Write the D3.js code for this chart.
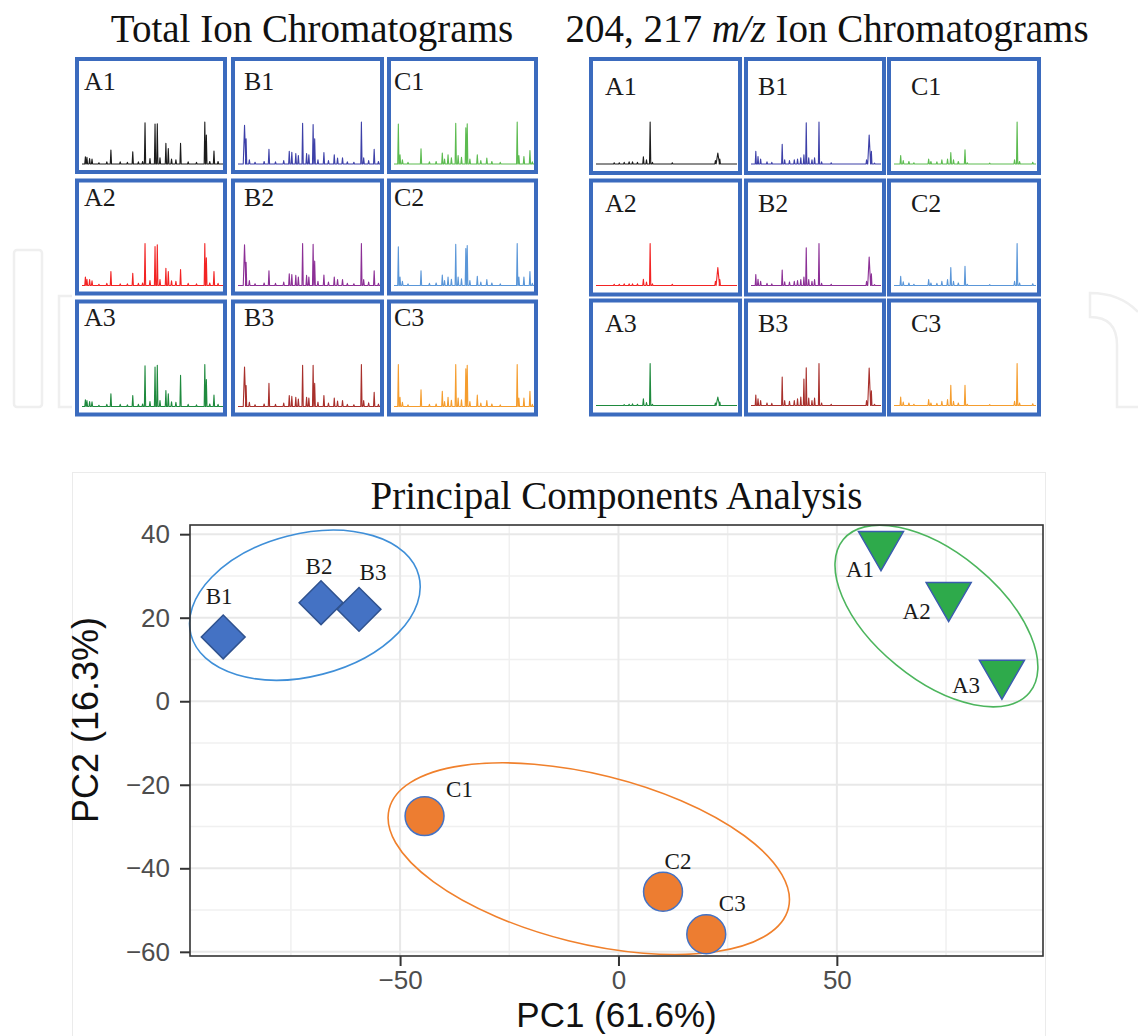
<!DOCTYPE html>
<html>
<head>
<meta charset="utf-8">
<script src="https://cdn.jsdelivr.net/npm/d3@7"></script>
<style>
  body { margin: 0; background: #fff; }
</style>
</head>
<body>
<div id="chart"></div>
<script>
// ---- PCA scores ----
var sampleNames = ["A1", "A2", "A3", "B1", "B2", "B3", "C1", "C2", "C3"];
var sampleGroup = ["A", "A", "A", "B", "B", "B", "C", "C", "C"];
var pc1 = [60.1, 75.6, 87.8, -90.5, -68.1, -59.4, -44.4, 10.2, 20.1];
var pc2 = [37.5, 25.3, 6.7, 15.4, 23.6, 22.0, -27.5, -45.6, -55.8];

var xTicks = [-50, 0, 50];
var yTicks = [-60, -40, -20, 0, 20, 40];
var xMinor = [-75, -25, 25, 75];
var yMinor = [-50, -30, -10, 10, 30];

// group ellipses: centre (PC units), semi axes (PC1 units), tilt (deg)
var ellGroup = ["B", "A", "C"];
var ellCx = [-71.8, 72.8, -6.8];
var ellCy = [23.0, 20.4, -37.7];
var ellA = [26.95, 27.6, 47.1];
var ellB = [16.3, 14.5, 19.35];
var ellTilt = [-14.5, 39.4, 13.95];

// ---- chromatogram peaks: [retention 0-100, relative height 0-100, half width] ----
var ticA1 = [[2.4,17],[3.5,16],[5.4,13],[7.1,12],[12,3],[17.6,5],[20.5,33],[27.1,5],[32.2,4],[36,29],[40,5],[43,6],[44.7,98],[48.2,13],[51.8,95],[53.4,96],[55.3,15],[59.5,49],[61.2,37],[63.5,12],[66.6,10],[69.9,49],[75.3,5],[81.2,4],[87.1,100],[88.2,69],[90.6,6],[93.6,31],[96.5,6]];
var ticA2 = [[2.4,20],[3.5,15],[5.4,14],[7.1,11],[12,3],[17.6,5],[20.5,33],[27.1,4],[32.2,4],[36,29],[40,5],[43,6],[44.7,100],[48.2,12],[51.8,93],[53.4,97],[55.3,14],[59.5,41],[61.2,33],[63.5,11],[66.6,10],[69.9,38],[75.3,5],[81.2,4],[87.1,100],[88.2,66],[90.6,6],[93.6,33],[96.5,5]];
var ticA3 = [[2.4,16],[3.5,14],[5.4,12],[7.1,11],[12,3],[17.6,5],[20.5,30],[27.1,5],[32.2,4],[36,26],[40,5],[43,6],[44.7,97],[48.2,12],[51.8,94],[53.4,98],[55.3,14],[59.5,38],[61.2,30],[63.5,11],[66.6,10],[69.9,74],[75.3,5],[81.2,4],[87.1,100],[88.2,64],[90.6,6],[93.6,27],[96.5,5]];
var ticB1 = [[4.6,92,0.9],[5.7,60],[8,10],[12,4],[18.4,6],[21.8,35],[26.4,5],[32.2,8],[36.1,30],[37.9,28],[40.7,25],[42.5,20],[45.5,97],[48.3,25],[49.9,22],[52.9,94],[54,60],[56.3,10],[60.5,27],[63.7,8],[67.8,22],[70.1,14],[73.6,15],[77,5],[81.6,4],[86.9,100],[88.5,15],[92,8],[95.9,35],[98.9,6]];
var ticB2 = [[4.6,97,0.9],[5.7,55],[8,12],[12,4],[18.4,6],[21.8,35],[26.4,5],[32.2,8],[36.1,28],[37.9,26],[40.7,24],[42.5,20],[45.5,100],[48.3,24],[49.9,20],[52.9,98],[54,58],[56.3,10],[60.5,25],[63.7,8],[67.8,20],[70.1,14],[73.6,14],[77,5],[81.6,4],[86.9,100],[88.5,14],[92,8],[95.9,35],[98.9,5]];
var ticB3 = [[4.6,94,0.9],[5.7,50],[8,10],[12,4],[18.4,6],[21.8,55],[26.4,5],[32.2,8],[36.1,26],[37.9,24],[40.7,22],[42.5,18],[45.5,98],[48.3,22],[49.9,20],[52.9,98],[54,55],[56.3,10],[60.5,26],[63.7,8],[67.8,20],[70.1,13],[73.6,14],[77,5],[81.6,4],[86.9,100],[88.5,14],[92,8],[95.9,34],[98.9,5]];
var ticC1 = [[3.1,95],[4.3,22],[6,10],[10,4],[19.3,36],[25.3,5],[30.1,6],[34.5,26],[36.1,12],[38.6,22],[41,15],[44.1,97],[45.8,20],[48.2,16],[51.3,86],[52.3,96],[54.2,12],[59.5,22],[62,8],[66.3,14],[69.9,6],[75.9,4],[88,100],[89.2,20],[92.8,18],[97.1,32],[98.8,5]];
var ticC2 = [[3.1,92],[4.3,20],[6,10],[10,4],[19.3,35],[25.3,5],[30.1,6],[34.5,25],[36.1,12],[38.6,20],[41,15],[44.1,98],[45.8,20],[48.2,16],[51.3,88],[52.3,95],[54.2,12],[59.5,22],[62,8],[66.3,14],[69.9,6],[75.9,4],[88,100],[89.2,20],[92.8,20],[97.1,33],[98.8,5]];
var ticC3 = [[3.1,100],[4.3,22],[6,10],[10,4],[19.3,40],[25.3,5],[30.1,6],[34.5,36],[36.1,12],[38.6,22],[41,15],[44.1,100],[45.8,20],[48.2,16],[51.3,90],[52.3,98],[54.2,12],[59.5,27],[62,8],[66.3,14],[69.9,6],[75.9,4],[88,100],[89.2,20],[92.8,20],[97.1,36],[98.8,5]];

var simA1 = [[12.9,3],[16.5,3],[20,4],[23.5,5],[25.9,5],[29.4,4],[33.6,17],[35.8,10],[38.4,100],[40,4],[54.1,3],[84.7,8],[86.4,26,1.2],[87.8,12]];
var simA2 = [[12.9,3],[16.5,3],[20,4],[23.5,4],[25.9,4],[29.4,4],[33.6,15],[35.8,8],[38.4,100],[40,4],[54.1,3],[84.7,10],[86.4,43,1.2],[87.8,14]];
var simA3 = [[20,2],[23.5,3],[25.9,4],[29.4,3],[33.6,16],[35.8,7],[38.4,100],[40,3],[84.7,6],[86.4,20,1.2],[87.8,8]];
var simB1 = [[3.7,30],[5.4,18],[7.4,12],[12.3,5],[16,4],[24,47],[25.9,10],[29.6,8],[33.3,10],[35.8,12],[38.3,15],[40.7,22],[42.5,98],[44.4,15],[46.9,10],[48.9,15],[52.3,100],[54.3,5],[61.7,3],[88.9,10],[90.9,69,1.1],[92.6,30],[95,2]];
var simB2 = [[3.7,26],[5.4,15],[7.4,10],[12.3,5],[16,4],[24,37],[25.9,9],[29.6,8],[33.3,10],[35.8,12],[38.3,14],[40.7,20],[42.5,90],[44.4,14],[46.9,10],[48.9,14],[52.3,100],[54.3,5],[61.7,3],[88.9,10],[90.9,68,1.1],[92.6,28],[95,2]];
var simB3 = [[3.7,25],[5.4,16],[7.4,12],[12.3,6],[16,5],[24,68],[25.9,12],[29.6,10],[33.3,12],[35.8,16],[38.3,20],[40.7,63],[42.5,90],[44.4,18],[46.9,12],[48.9,18],[52.3,100],[54.3,6],[61.7,3],[88.9,12],[90.9,89,1.1],[92.6,35],[95,3]];
var simC1 = [[4.7,20],[6.5,8],[10.5,6],[14,3],[24.4,12],[26,6],[30.2,5],[33.7,10],[37.7,12],[40,27],[41.9,10],[45.3,6],[50,34],[51.6,3],[67.4,2],[84.9,10],[86.7,100],[88.4,6],[97.7,4]];
var simC2 = [[4.7,22],[6.5,9],[10.5,6],[14,3],[24.4,14],[26,6],[30.2,5],[33.7,10],[37.7,14],[40,43],[41.9,10],[45.3,6],[50,46],[51.6,3],[67.4,2],[84.9,10],[86.7,100],[88.4,6],[97.7,4]];
var simC3 = [[4.7,20],[6.5,8],[10.5,6],[14,3],[24.4,14],[26,6],[30.2,5],[33.7,10],[37.7,14],[40,48],[41.9,10],[45.3,6],[50,48],[51.6,3],[67.4,2],[84.9,10],[86.7,100],[88.4,6],[97.7,4]];

var gridNames = [["A1", "B1", "C1"], ["A2", "B2", "C2"], ["A3", "B3", "C3"]];
var ticData = {A1: ticA1, A2: ticA2, A3: ticA3, B1: ticB1, B2: ticB2, B3: ticB3, C1: ticC1, C2: ticC2, C3: ticC3};
var simData = {A1: simA1, A2: simA2, A3: simA3, B1: simB1, B2: simB2, B3: simB3, C1: simC1, C2: simC2, C3: simC3};

// ---- styles ----
var traceColor = {A1: "#1c1c1c", B1: "#3d40a8", C1: "#5cbb50", A2: "#f22424", B2: "#8c3096",
                  C2: "#5a96d8", A3: "#1f8a3e", B3: "#a8302c", C3: "#f59d2e"};
var groupStyle = {
  A: {shape: "triangle", fill: "#2eaa4b", stroke: "#3a5cae", ell: "#4cb55d"},
  B: {shape: "diamond",  fill: "#4472c4", stroke: "#2f528f", ell: "#3f8fd8"},
  C: {shape: "circle",   fill: "#ed7d31", stroke: "#4472c4", ell: "#f0802c"}
};
var labelNudge = {A1: [-21, 32], A2: [-32, 23], A3: [-36, 20], B1: [-4, -33], B2: [-2, -29],
                  B3: [14, -29], C1: [35, -19], C2: [15, -23], C3: [26, -23]};

var serif = "'Liberation Serif', 'Times New Roman', serif";
var sans = "'Liberation Sans', Arial, Helvetica, sans-serif";

var svg = d3.select("#chart").append("svg")
  .attr("width", 1138).attr("height", 1036)
  .style("display", "block");

// faint publisher watermark
var wm = svg.append("g").attr("fill", "none").attr("stroke", "#efefef").attr("stroke-width", 2.5);
wm.append("rect").attr("x", 14).attr("y", 250).attr("width", 28).attr("height", 157).attr("rx", 3);
wm.append("path").attr("d", "M72,296 L59,296 L59,407 L72,407");
wm.append("path").attr("d", "M1138,312 Q1120,293 1090,293 L1090,317 Q1117,317 1117,345 L1117,407 L1138,407");

// ---- chromatogram grids ----
function drawChrom(g, peaks, x0, x1, base, color) {
  var xs = d3.scaleLinear().domain([0, 100]).range([x0, x1]);
  var ys = d3.scaleLinear().domain([0, 100]).range([base, base - 42]);
  var pts = [[0, 0]];
  peaks.slice().sort(function(a, b) { return a[0] - b[0]; }).forEach(function(p) {
    var hw = p[2] || 0.45;
    pts.push([p[0] - hw, 0], [p[0], p[1]], [p[0] + hw, 0]);
  });
  pts.push([100, 0]);
  g.append("path")
    .attr("d", d3.line().x(function(d) { return xs(d[0]); }).y(function(d) { return ys(d[1]); })(pts))
    .attr("fill", "none").attr("stroke", color).attr("stroke-width", 1.1).attr("stroke-linejoin", "round");
}

function drawGrid(cfg, dataMap) {
  var g = svg.append("g");
  gridNames.forEach(function(row, r) {
    row.forEach(function(name, c) {
      var left = cfg.cols[c], w = cfg.widths[c], top = cfg.rows[r];
      drawChrom(g, dataMap[name], left + cfg.inL, left + w - cfg.inR, top + 107, traceColor[name]);
      g.append("text").attr("x", left + cfg.labelDx[c]).attr("y", top + cfg.labelDy[r])
        .attr("font-family", serif).attr("font-size", 26).attr("fill", "#1a1a1a").text(name);
      g.append("rect").attr("x", left + 2).attr("y", top + 2)
        .attr("width", w - 4).attr("height", cfg.h - 4)
        .attr("fill", "none").attr("stroke", "#3b6bbe").attr("stroke-width", 4);
    });
  });
}

drawGrid({cols: [75, 231, 387], widths: [152, 153, 151], rows: [57, 178.5, 299.5], h: 117,
          inL: 7, inR: 4, labelDx: [9, 13, 7], labelDy: [33, 27, 26]}, ticData);
drawGrid({cols: [589, 744, 887], widths: [153, 142, 154], rows: [57, 178.5, 298.5], h: 118,
          inL: 7, inR: 5, labelDx: [16, 14, 24], labelDy: [38, 33.5, 33.5]}, simData);

svg.append("text").attr("x", 312).attr("y", 42).attr("text-anchor", "middle")
  .attr("font-family", serif).attr("font-size", 39).attr("fill", "#111")
  .text("Total Ion Chromatograms");
var t2 = svg.append("text").attr("x", 827).attr("y", 42).attr("text-anchor", "middle")
  .attr("font-family", serif).attr("font-size", 39).attr("fill", "#111");
t2.append("tspan").text("204, 217 ");
t2.append("tspan").attr("font-style", "italic").text("m/z");
t2.append("tspan").text(" Ion Chromatograms");

// ---- PCA panel ----
svg.append("rect").attr("x", 72.5).attr("y", 472.5).attr("width", 973).attr("height", 600)
  .attr("fill", "none").attr("stroke", "#ebebeb").attr("stroke-width", 1);

var plot = {left: 190, right: 1043, top: 525, bottom: 956};
var x = d3.scaleLinear().domain([-98.1, 97.2]).range([plot.left, plot.right]);
var y = d3.scaleLinear().domain([-61.0, 42.2]).range([plot.bottom, plot.top]);

var grid = svg.append("g");
grid.selectAll(".vmin").data(xMinor).enter().append("line")
  .attr("x1", function(d) { return x(d); }).attr("x2", function(d) { return x(d); })
  .attr("y1", plot.top).attr("y2", plot.bottom).attr("stroke", "#f0f0f0").attr("stroke-width", 1.5);
grid.selectAll(".hmin").data(yMinor).enter().append("line")
  .attr("y1", function(d) { return y(d); }).attr("y2", function(d) { return y(d); })
  .attr("x1", plot.left).attr("x2", plot.right).attr("stroke", "#f0f0f0").attr("stroke-width", 1.5);
grid.selectAll(".vmaj").data(xTicks).enter().append("line")
  .attr("x1", function(d) { return x(d); }).attr("x2", function(d) { return x(d); })
  .attr("y1", plot.top).attr("y2", plot.bottom).attr("stroke", "#e8e8e8").attr("stroke-width", 2);
grid.selectAll(".hmaj").data(yTicks).enter().append("line")
  .attr("y1", function(d) { return y(d); }).attr("y2", function(d) { return y(d); })
  .attr("x1", plot.left).attr("x2", plot.right).attr("stroke", "#e8e8e8").attr("stroke-width", 2);

// ellipses
var pxPerUnit = x(1) - x(0);
ellGroup.forEach(function(gname, i) {
  svg.append("ellipse")
    .attr("transform", "translate(" + x(ellCx[i]) + "," + y(ellCy[i]) + ") rotate(" + ellTilt[i] + ")")
    .attr("rx", ellA[i] * pxPerUnit).attr("ry", ellB[i] * pxPerUnit)
    .attr("fill", "none").attr("stroke", groupStyle[gname].ell).attr("stroke-width", 1.6);
});

// points
var symbolType = {triangle: d3.symbolTriangle, diamond: d3.symbolSquare, circle: d3.symbolCircle};
var symbolSize = {triangle: 880, diamond: 960, circle: 1190};
var symbolRot = {triangle: 180, diamond: 45, circle: 0};
sampleNames.forEach(function(name, i) {
  var st = groupStyle[sampleGroup[i]];
  svg.append("path")
    .attr("d", d3.symbol().type(symbolType[st.shape]).size(symbolSize[st.shape])())
    .attr("transform", "translate(" + x(pc1[i]) + "," + y(pc2[i]) + ") rotate(" + symbolRot[st.shape] + ")")
    .attr("fill", st.fill).attr("stroke", st.stroke).attr("stroke-width", 1.5);
  svg.append("text")
    .attr("x", x(pc1[i]) + labelNudge[name][0]).attr("y", y(pc2[i]) + labelNudge[name][1])
    .attr("text-anchor", "middle").attr("font-family", serif).attr("font-size", 23)
    .attr("fill", "#1a1a1a").text(name);
});

// panel border
svg.append("rect").attr("x", plot.left).attr("y", plot.top)
  .attr("width", plot.right - plot.left).attr("height", plot.bottom - plot.top)
  .attr("fill", "none").attr("stroke", "#333").attr("stroke-width", 1.6);

// axes
var xAxis = svg.append("g").attr("transform", "translate(0," + plot.bottom + ")")
  .call(d3.axisBottom(x).tickValues(xTicks).tickSize(10).tickPadding(5));
var yAxis = svg.append("g").attr("transform", "translate(" + plot.left + ",0)")
  .call(d3.axisLeft(y).tickValues(yTicks).tickSize(10).tickPadding(10));
[xAxis, yAxis].forEach(function(ax) {
  ax.select(".domain").remove();
  ax.selectAll(".tick line").attr("stroke", "#333").attr("stroke-width", 2);
  ax.selectAll(".tick text").attr("fill", "#4d4d4d").attr("font-family", sans).attr("font-size", 26);
});

svg.append("text").attr("x", (plot.left + plot.right) / 2).attr("y", 1027)
  .attr("text-anchor", "middle").attr("font-family", sans).attr("font-size", 35)
  .attr("fill", "#111").text("PC1 (61.6%)");
svg.append("text").attr("transform", "translate(98,720) rotate(-90)")
  .attr("text-anchor", "middle").attr("font-family", sans).attr("font-size", 36)
  .attr("fill", "#111").text("PC2 (16.3%)");

svg.append("text").attr("x", (plot.left + plot.right) / 2).attr("y", 509)
  .attr("text-anchor", "middle").attr("font-family", serif).attr("font-size", 39)
  .attr("fill", "#111").text("Principal Components Analysis");
</script>
</body>
</html>
